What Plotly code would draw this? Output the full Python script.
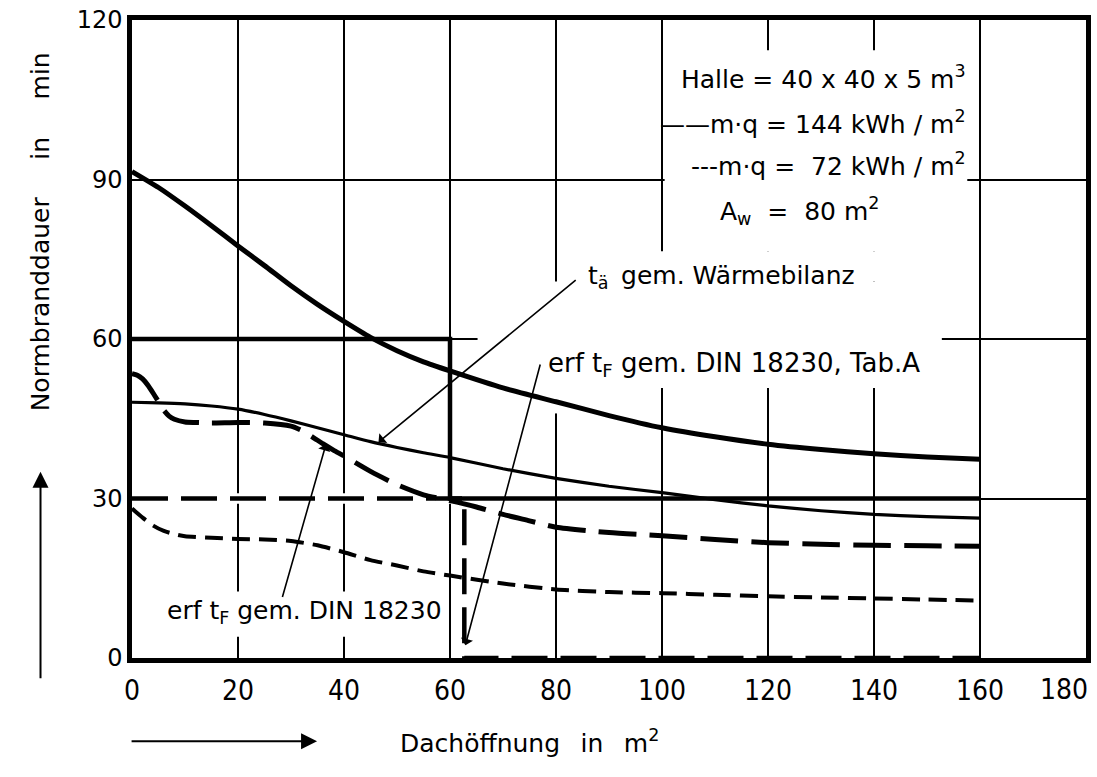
import plotly.graph_objects as go

# ---------------- data ----------------
x_tf144 = [0, 5, 10, 15, 20, 25, 30, 35, 40, 45, 50, 55, 60, 70, 80, 90, 100, 110, 120, 130, 140, 150, 160]
y_tf144 = [91.5, 88.5, 85, 81.3, 77.5, 73.8, 70, 66.5, 63.3, 60.3, 57.8, 55.7, 54, 50.8, 48.2, 45.6, 43.3,
           41.6, 40.2, 39.2, 38.4, 37.8, 37.4]

x_ta144 = [0, 5, 10, 15, 20, 25, 30, 35, 40, 45, 50, 55, 60, 70, 80, 90, 100, 110, 120, 130, 140, 150, 160]
y_ta144 = [48.1, 48.0, 47.8, 47.4, 46.8, 45.8, 44.6, 43.3, 42.0, 40.7, 39.6, 38.6, 37.7, 35.6, 33.8, 32.3,
           31.1, 29.8, 28.6, 27.7, 27.0, 26.6, 26.3]

x_tf72 = [0, 1, 2, 3, 4, 5, 6, 7, 8, 10, 12, 15, 20, 25, 30, 32, 34, 36, 38, 40, 45, 50, 55, 60, 65, 70,
          75, 80, 90, 100, 110, 120, 130, 140, 150, 160]
y_tf72 = [53.5, 53.2, 52.5, 51.3, 49.8, 48.2, 46.6, 45.5, 44.9, 44.4, 44.3, 44.2, 44.3, 44.2, 43.6, 42.8,
          41.6, 40.3, 39.1, 38.0, 35.1, 32.6, 30.7, 29.6, 28.4, 27.0, 25.8, 24.6, 23.6, 23.0, 22.3, 21.7,
          21.4, 21.2, 21.1, 21.0]

x_ta72 = [0, 2, 4, 6, 8, 10, 15, 20, 25, 30, 35, 40, 45, 50, 55, 60, 70, 80, 90, 100, 110, 120, 130, 140, 150, 160]
y_ta72 = [28.1, 26.4, 24.9, 23.9, 23.3, 22.9, 22.6, 22.4, 22.3, 22.0, 21.2, 19.9, 18.4, 17.4, 16.3, 15.5,
          14.0, 12.9, 12.4, 12.2, 11.9, 11.6, 11.4, 11.2, 11.0, 10.8]

x_tab144 = [0, 60, 60, 160]
y_tab144 = [60, 60, 30, 30]

x_tab72 = [0, 62.7, 62.7, 160]
y_tab72 = [30, 30, 0, 0]

x_ticks = [0, 20, 40, 60, 80, 100, 120, 140, 160]
y_ticks = [0, 30, 60, 90, 120]

FONT = "DejaVu Sans, Liberation Sans, sans-serif"
NARROW = "Liberation Sans Narrow, DejaVu Sans Condensed, Liberation Sans, sans-serif"

fig = go.Figure()

def line(x, y, width, dash="solid"):
    fig.add_trace(go.Scatter(x=x, y=y, mode="lines", hoverinfo="skip",
                             line=dict(color="black", width=width, dash=dash, shape="spline", smoothing=0.6)))

def step(x, y, width, dash="solid"):
    fig.add_trace(go.Scatter(x=x, y=y, mode="lines", hoverinfo="skip",
                             line=dict(color="black", width=width, dash=dash)))

step(x_tab144, y_tab144, 4.5)
step(x_tab72, y_tab72, 4.5, "36px,13px")
line(x_tf144, y_tf144, 5)
line(x_ta144, y_ta144, 3.2)
line(x_tf72, y_tf72, 5, "38px,13px")
line(x_ta72, y_ta72, 4, "18px,9px")

# white masks that interrupt the grid behind the lettering
masks = [
    (100.5, 157.6, 76.5, 114.3),
    (65.2, 152.8, 50.8, 70.8),
    (84.0, 157.6, 70.8, 76.5),
    (77.0, 83.0, 46.0, 50.8),
    (0.5, 61.0, 29.0, 31.0),
    (5.5, 58.5, 4.0, 12.5),
]
for x0, x1, y0, y1 in masks:
    fig.add_shape(type="rect", xref="x", yref="y", x0=x0, x1=x1, y0=y0, y1=y1,
                  fillcolor="white", line=dict(width=0), layer="between")

ann = []
def txt(x, y, s, xanchor="left", size=25, xref="x", yref="y", angle=0):
    ann.append(dict(x=x, y=y, xref=xref, yref=yref, text=s, showarrow=False, xanchor=xanchor,
                    yanchor="middle", textangle=angle, font=dict(family=FONT, size=size, color="black")))

# legend block
txt(157.7, 109.2, "Halle = 40 x 40 x 5 m<sup>3</sup>", "right")
txt(157.7, 100.8, "——m·q = 144 kWh / m<sup>2</sup>", "right")
txt(157.7, 92.8, "---m·q =  72 kWh / m<sup>2</sup>", "right")
txt(126.0, 84.0, "A<sub>w</sub>  =  80 m<sup>2</sup>", "center")

# curve labels
txt(85.6, 71.7, "t<sub>ä</sub>\u2002gem. Wärmebilanz")
txt(78.1, 55.2, "erf t<sub>F</sub> gem. DIN 18230, Tab.A", size=26)
txt(6.2, 8.6, "erf t<sub>F</sub> gem. DIN 18230")

# leader lines
def leader(x, y, ax, ay):
    ann.append(dict(x=x, y=y, ax=ax, ay=ay, xref="x", yref="y", axref="x", ayref="y", text="",
                    showarrow=True, arrowhead=1, arrowsize=1.3, arrowwidth=1.6, arrowcolor="black"))

leader(46.5, 40.6, 84.0, 71.3)
leader(36.6, 40.2, 28.3, 11.2)
leader(62.9, 2.4, 77.1, 55.5)

# 180 tick label (sits left of the frame in the original)
ann.append(dict(x=180, y=0, xref="x", yref="y", text="180", showarrow=False, xanchor="center",
                yanchor="top", xshift=-22, yshift=-13, font=dict(family=NARROW, size=28, color="black")))

# axis titles with arrows
txt(-0.0959, 0.668, "Normbranddauer\u2003\u2002in\u2003\u2002min", "center", 25, "paper", "paper", -90)
txt(0.417, -0.1304, "Dachöffnung\u2002\u00a0in\u2002\u00a0m<sup>2</sup>", "center", 25, "paper", "paper")
ann.append(dict(x=-0.0959, y=0.2919, xref="paper", yref="paper", ax=0, ay=208, text="", showarrow=True,
                arrowhead=2, arrowsize=1.6, arrowwidth=2, arrowcolor="black"))
ann.append(dict(x=0.194, y=-0.1304, xref="paper", yref="paper", ax=-187, ay=0, text="", showarrow=True,
                arrowhead=2, arrowsize=1.6, arrowwidth=2, arrowcolor="black"))

fig.update_layout(
    width=1097, height=777,
    margin=dict(l=132, r=6, t=14, b=119),
    plot_bgcolor="white", paper_bgcolor="white",
    showlegend=False, annotations=ann,
    xaxis=dict(range=[0, 180], tickvals=x_ticks, ticktext=[str(v) for v in x_ticks],
               showgrid=True, gridcolor="black", gridwidth=1.7, zeroline=False,
               showline=True, linecolor="black", linewidth=4.5, mirror=True, ticks="",
               ticklabelstandoff=4, tickfont=dict(family=NARROW, size=28, color="black")),
    yaxis=dict(range=[0, 120], tickvals=y_ticks, ticktext=[str(v) for v in y_ticks],
               showgrid=True, gridcolor="black", gridwidth=1.7, zeroline=False,
               showline=True, linecolor="black", linewidth=4.5, mirror=True, ticks="",
               ticklabelstandoff=0, tickfont=dict(family=FONT, size=24, color="black")),
)

fig.write_html("out.html")
